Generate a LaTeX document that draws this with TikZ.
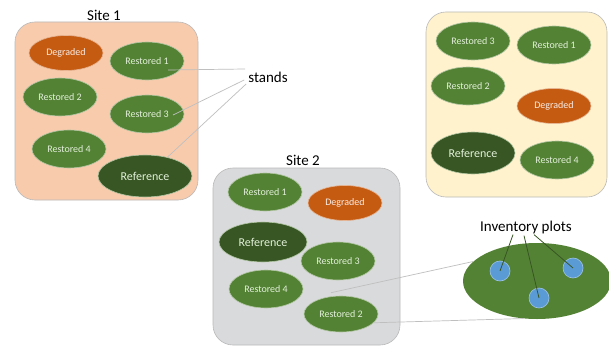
\documentclass[tikz,border=0pt]{standalone}
\usepackage{fontspec}
\setmainfont{Carlito}
\usetikzlibrary{shapes.geometric,calc}

\definecolor{peach}{HTML}{F8CBAD}
\definecolor{cream}{HTML}{FFF2CC}
\definecolor{boxgray}{HTML}{D9DADC}
\definecolor{restgreen}{HTML}{548235}
\definecolor{refgreen}{HTML}{375623}
\definecolor{degorange}{HTML}{C55A11}
\definecolor{plotblue}{HTML}{5B9BD5}
\definecolor{standtext}{HTML}{E2F0D9}

\tikzset{
  site/.style={draw=gray!55, line width=0.6pt, rounded corners=20pt},
  stand/.style={ellipse, draw=restgreen!45, line width=0.6pt, inner sep=0pt,
    minimum width=74pt, minimum height=38pt, text=standtext,
    font=\fontsize{10}{12}\selectfont},
  restored/.style={stand, fill=restgreen},
  degraded/.style={stand, fill=degorange, draw=degorange!45, text=white!90!degorange,
    minimum height=35pt},
  reference/.style={stand, fill=refgreen, minimum width=94pt, minimum height=42pt,
    font=\fontsize{12}{14}\selectfont},
  sitelabel/.style={font=\fontsize{15}{18}\selectfont},
  pointer/.style={draw=gray!50, line width=0.7pt},
  plotline/.style={draw=refgreen, line width=0.8pt},
}

\begin{document}
\begin{tikzpicture}[x=1pt, y=-1pt]
  \useasboundingbox (0,0) rectangle (609,350);
  \fill[white] (0,0) rectangle (609,350);

  \draw[site, fill=peach] (15,22) rectangle (198,200);
  \draw[site, fill=cream] (426,12) rectangle (607,197);
  \draw[site, fill=boxgray] (213,168) rectangle (400,345);

  \node[sitelabel] (site1) at (104,15) {Site 1};
  \node[sitelabel] (site2) at (303,160) {Site 2};

  % site 1
  \node[degraded] (s1deg) at (66,53) {Degraded};
  \node[restored] (s1r1) at (147,61) {Restored 1};
  \node[restored] (s1r2) at (60,97) {Restored 2};
  \node[restored] (s1r3) at (147,114) {Restored 3};
  \node[restored] (s1r4) at (69,149) {Restored 4};
  \node[reference] (s1ref) at (145,176) {Reference};

  % top right
  \node[restored] (s3r3) at (473,41) {Restored 3};
  \node[restored] (s3r1) at (554,45) {Restored 1};
  \node[restored] (s3r2) at (468,86) {Restored 2};
  \node[degraded] (s3deg) at (554,106) {Degraded};
  \node[reference, minimum width=84pt] (s3ref) at (473,153) {Reference};
  \node[restored] (s3r4) at (557,160) {Restored 4};

  % site 2
  \node[restored] (s2r1) at (265,192) {Restored 1};
  \node[degraded] (s2deg) at (345,203) {Degraded};
  \node[reference, minimum width=88pt, minimum height=40pt] (s2ref) at (263,242) {Reference};
  \node[restored] (s2r3) at (338,261) {Restored 3};
  \node[restored] (s2r4) at (266,289) {Restored 4};
  \node[restored, minimum height=36pt] (s2r2) at (341,314) {Restored 2};

  % inventory plots
  \node[ellipse, fill=restgreen, minimum width=148pt, minimum height=76pt] (plot) at (537,281) {};
  \node[circle, fill=plotblue, draw=plotblue!60, line width=0.6pt, minimum size=20pt] (p1) at (500,271) {};
  \node[circle, fill=plotblue, draw=plotblue!60, line width=0.6pt, minimum size=20pt] (p2) at (539,298) {};
  \node[circle, fill=plotblue, draw=plotblue!60, line width=0.6pt, minimum size=20pt] (p3) at (573,268) {};
  \node[sitelabel, inner sep=1pt] (inv) at (526,227) {Inventory plots};

  \node[sitelabel, inner sep=1pt] (stands) at (268,77) {stands};

  \draw[pointer] ($(stands.west)+(-2,-8)$) -- ($(s1r1.center)+(21,9)$);
  \draw[pointer] ($(stands.west)+(-3,3)$) -- ($(s1r3.center)+(26,1)$);
  \draw[pointer] ($(stands.west)+(-1,7)$) -- (s1ref.40);

  \draw[pointer] ($(s2r2.north)+(-10,-3)$) -- (plot.163);
  \draw[pointer] (s2r2.-15) -- (plot.-110);

  \draw[plotline] ($(inv.south)+(-13,0)$) -- (p1.center);
  \draw[plotline] ($(inv.south)+(-2,1)$) -- (p2.center);
  \draw[plotline] ($(inv.south)+(8,0)$) -- (p3.center);
\end{tikzpicture}
\end{document}
